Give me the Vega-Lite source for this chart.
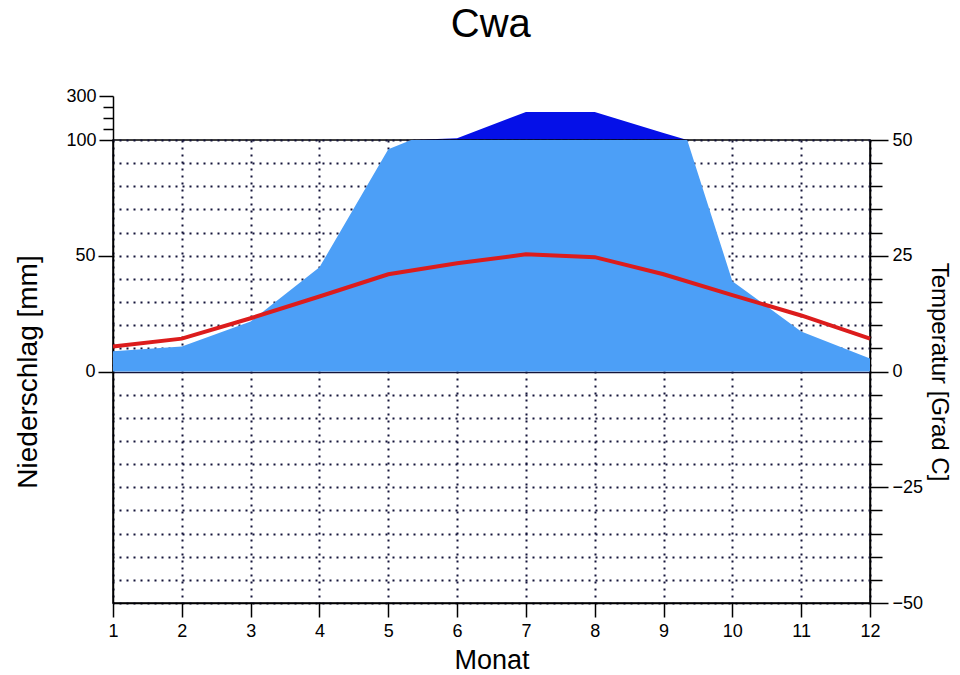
{
  "$schema": "https://vega.github.io/schema/vega-lite/v6.json",
  "padding": {"left": 14, "top": 5, "right": 0, "bottom": 0},
  "background": "white",
  "title": {"text": "Cwa", "fontSize": 40, "font": "Liberation Sans", "fontWeight": "normal", "color": "black", "anchor": "middle", "baseline": "bottom", "offset": 2, "dx": 8},
  "config": {
    "font": "Liberation Sans",
    "view": {"stroke": null},
    "concat": {"spacing": 0},
    "axis": {
      "labelFont": "Liberation Sans", "titleFont": "Liberation Sans",
      "labelColor": "black", "titleColor": "black", "titleFontWeight": "normal",
      "domainColor": "black", "tickColor": "black", "domainWidth": 1.5, "tickWidth": 1.5,
      "labelFontSize": 18, "labelOverlap": false, "zindex": 1
    }
  },
  "data": {"values": [
    {"month": 1, "precip": 8.7, "temp": 5.4},
    {"month": 2, "precip": 10.8, "temp": 7.1},
    {"month": 3, "precip": 21.6, "temp": 11.5},
    {"month": 4, "precip": 45, "temp": 16.2},
    {"month": 5, "precip": 96, "temp": 21},
    {"month": 6, "precip": 108, "temp": 23.4},
    {"month": 7, "precip": 227, "temp": 25.3},
    {"month": 8, "precip": 227, "temp": 24.7},
    {"month": 9, "precip": 132, "temp": 21},
    {"month": 10, "precip": 39, "temp": 16.5},
    {"month": 11, "precip": 17.3, "temp": 12.1},
    {"month": 12, "precip": 5.6, "temp": 7.1}
  ]},
  "spacing": 0,
  "bounds": "flush",
  "vconcat": [
    {
      "width": 757, "height": 44,
      "mark": {"type": "area", "color": "#0510e8", "clip": true, "opacity": 1},
      "encoding": {
        "x": {"field": "month", "type": "quantitative", "scale": {"domain": [1, 12], "nice": false, "zero": false}, "axis": null},
        "y": {"field": "precip", "type": "quantitative",
          "scale": {"domain": [100, 300], "nice": false, "zero": false},
          "axis": {"orient": "left", "values": [100, 150, 200, 250, 300], "grid": false, "title": null,
            "labelExpr": "datum.value == 100 || datum.value == 300 ? datum.label : ''",
            "tickSize": {"condition": {"test": "datum.value == 100 || datum.value == 300", "value": 14}, "value": 10},
            "labelPadding": 3}}
      }
    },
    {
      "width": 757, "height": 463,
      "view": {"stroke": "black", "strokeWidth": 1.5},
      "encoding": {
        "x": {"field": "month", "type": "quantitative", "scale": {"domain": [1, 12], "nice": false, "zero": false},
          "axis": {"values": [1, 2, 3, 4, 5, 6, 7, 8, 9, 10, 11, 12], "grid": true, "gridDash": [2, 5], "gridColor": "#14143a", "gridWidth": 2, "gridOpacity": 1,
            "tickSize": 14, "labelPadding": 5, "labelFlush": false, "title": "Monat", "titleFontSize": 27, "titlePadding": 7}}
      },
      "layer": [
        {
          "mark": {"type": "area", "color": "#4c9ff7", "clip": true, "opacity": 1},
          "encoding": {
            "y": {"field": "precip", "type": "quantitative", "scale": {"domain": [-100, 100], "nice": false, "zero": false},
              "axis": {"orient": "left", "values": [0, 50], "grid": false, "tickSize": 15, "labelPadding": 3,
                "title": "Niederschlag [mm]", "titleFontSize": 28, "titlePadding": 32}}
          }
        },
        {
          "mark": {"type": "line", "color": "#dc1c1c", "strokeWidth": 4},
          "encoding": {
            "y": {"field": "temp", "type": "quantitative", "scale": {"domain": [-50, 50], "nice": false, "zero": false},
              "axis": {"orient": "right", "values": [-50, -45, -40, -35, -30, -25, -20, -15, -10, -5, 0, 5, 10, 15, 20, 25, 30, 35, 40, 45, 50],
                "grid": true, "gridColor": "#14143a", "gridOpacity": 1,
                "gridDash": {"condition": {"test": "datum.value == 0", "value": []}, "value": [2, 5]},
                "gridWidth": {"condition": {"test": "datum.value == 0", "value": 1.5}, "value": 2},
                "tickSize": {"condition": {"test": "datum.value % 25 == 0", "value": 18}, "value": 12},
                "labelExpr": "datum.value % 25 == 0 ? datum.label : ''",
                "labelPadding": 4,
                "title": "Temperatur [Grad C]", "titleFontSize": 24, "titlePadding": 4}}
          }
        }
      ],
      "resolve": {"scale": {"y": "independent"}, "axis": {"y": "independent"}}
    }
  ]
}
